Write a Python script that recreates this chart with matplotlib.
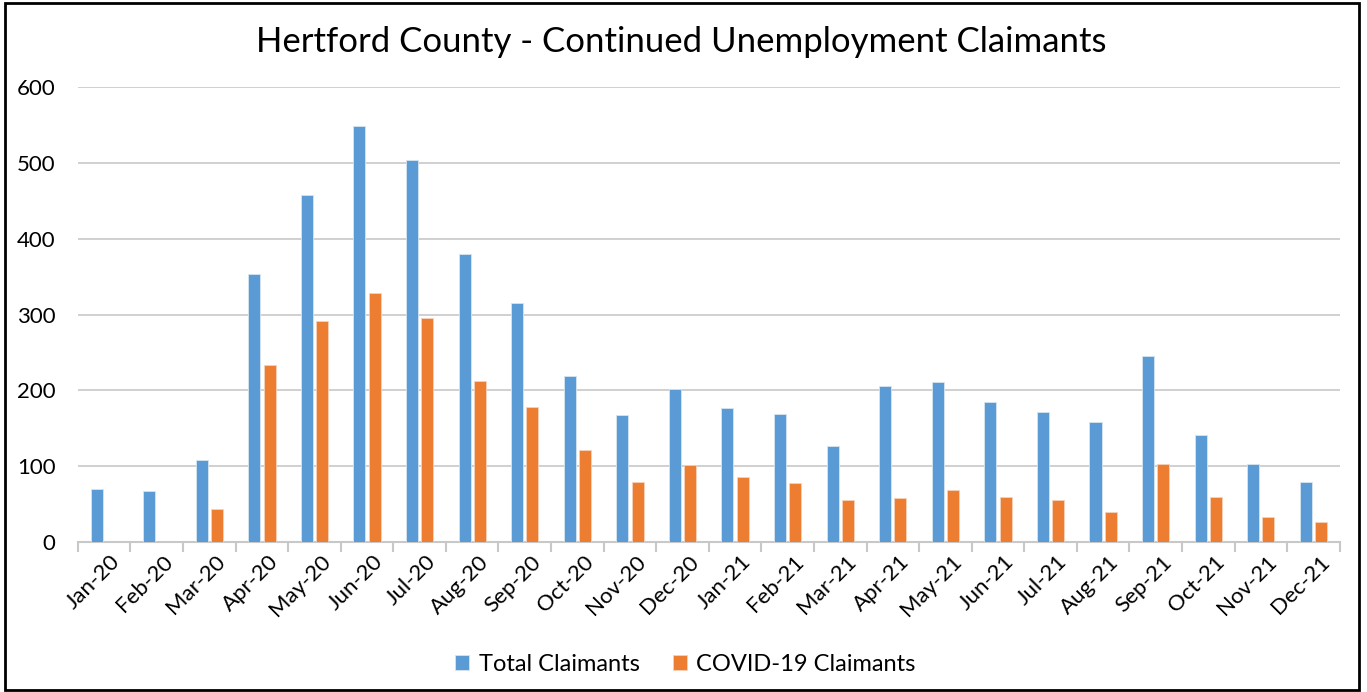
import matplotlib
matplotlib.use("Agg")
import matplotlib.pyplot as plt
import matplotlib.transforms as mtransforms
import numpy as np

months = ["Jan-20", "Feb-20", "Mar-20", "Apr-20", "May-20", "Jun-20", "Jul-20", "Aug-20",
          "Sep-20", "Oct-20", "Nov-20", "Dec-20", "Jan-21", "Feb-21", "Mar-21", "Apr-21",
          "May-21", "Jun-21", "Jul-21", "Aug-21", "Sep-21", "Oct-21", "Nov-21", "Dec-21"]
total = [70, 67, 108, 354, 458, 549, 504, 380, 315, 219, 168, 202,
         177, 169, 127, 206, 211, 185, 172, 158, 245, 141, 103, 79]
covid = [0, 0, 44, 233, 292, 329, 296, 212, 178, 121, 79, 102,
         86, 78, 55, 58, 69, 59, 55, 40, 103, 59, 33, 26]

plt.rcParams['font.family'] = ['Lato', 'DejaVu Sans']

fig = plt.figure(figsize=(13.67, 6.92), dpi=100)
ax = fig.add_axes([0.057, 0.2168, 0.923, 0.6574])

x = np.arange(len(months))
w = 0.23
off = 0.145
ax.bar(x - off, total, width=w, color="#5B9BD5", edgecolor="#D6E4F0", linewidth=0.6,
       label="Total Claimants", zorder=3)
ax.bar(x + off, covid, width=w, color="#ED7D31", edgecolor="#F5D2BA", linewidth=0.6,
       label="COVID-19 Claimants", zorder=3)

ax.set_xlim(-0.5, len(months) - 0.5)
ax.set_ylim(0, 600)
ax.set_yticks(range(0, 601, 100))
ax.yaxis.grid(True, color="#C8C8C8", linewidth=1.2, zorder=0)
ax.set_axisbelow(True)
for s in ["top", "right", "left"]:
    ax.spines[s].set_visible(False)
ax.spines["bottom"].set_color("#C8C8C8")
ax.spines["bottom"].set_linewidth(1.5)
ax.tick_params(axis="y", length=0, labelsize=16, pad=16)

ax.set_xticks(x)
ax.set_xticklabels(months, rotation=45, ha="right", rotation_mode="anchor", fontsize=16)
ax.tick_params(axis="x", which="major", length=0, pad=7)
shift = mtransforms.ScaledTranslation(6 / 100, 0, fig.dpi_scale_trans)
for lab in ax.get_xticklabels():
    lab.set_transform(lab.get_transform() + shift)
ax.set_xticks(np.arange(-0.5, len(months), 1), minor=True)
ax.tick_params(axis="x", which="minor", length=7, color="#C8C8C8", width=1.5)

fig.text(0.498, 0.939, "Hertford County - Continued Unemployment Claimants",
         ha="center", va="center", fontsize=25)

leg = fig.legend(loc="center", bbox_to_anchor=(0.5015, 0.04), ncol=2, frameon=False,
                 fontsize=17, handlelength=0.6, handleheight=0.6, columnspacing=1.4,
                 handletextpad=0.4)

border = plt.Rectangle((0.004, 0.003), 0.99, 0.993, transform=fig.transFigure,
                       fill=False, edgecolor="black", linewidth=2)
fig.add_artist(border)

fig.savefig("out.png", dpi=100)
